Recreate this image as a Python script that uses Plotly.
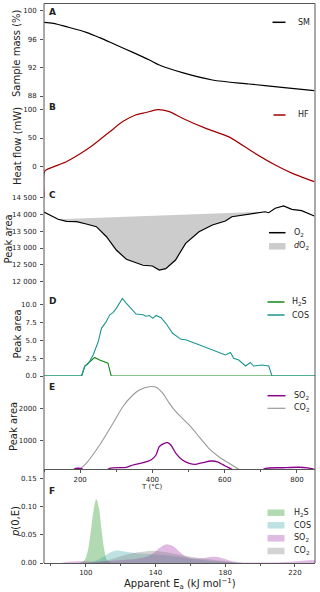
import numpy as np
import plotly.graph_objects as go

# ---------------- data ----------------
# Panel A: sample mass (%)
sm_T = [100, 126, 162, 217, 254, 300, 346, 392, 419, 483, 566, 667, 758, 848]
sm_v = [98.36, 98.22, 97.75, 96.96, 96.21, 95.17, 94.14, 93.06, 92.36, 91.28, 90.25, 89.69, 89.22, 88.75]

# Panel B: heat flow (mW)
hf_T = [100, 102, 126, 162, 200, 236, 282, 318, 355, 382, 414, 447, 483, 548, 612, 676, 740, 786, 848]
hf_v = [-55, -8.5, -1, 8, 22, 37.6, 61, 79, 91, 95, 100, 96.5, 85, 67, 52, 26, 2.3, -12, -27]

# Panel C: O2 peak area
o2_T = [100, 110, 125, 139, 162, 190, 217, 245, 273, 300, 328, 355, 374, 400, 419, 437, 464, 492,
        529, 566, 602, 620, 657, 685, 712, 722, 740, 763, 786, 813, 848]
o2_v = [14068, 14009, 13930, 13852, 13793, 13781, 13713, 13633, 13336, 12942, 12666, 12565, 12490,
        12468, 12349, 12388, 12645, 13140, 13484, 13683, 13801, 13929, 13979, 14030, 14075, 14047,
        14178, 14246, 14148, 14107, 13950]
# dO2 baseline end points
base_T = [139, 712]
base_v = [13852, 14075]

# Panel D: H2S and COS peak areas
h2s_T = [100, 204, 213, 227, 240, 254, 277, 286, 850]
h2s_v = [0, 0, 1.4, 2.0, 2.6, 2.25, 1.8, 0, 0]
cos_T = [100, 204, 213, 222, 236, 250, 259, 272, 282, 291, 300, 317, 328, 341, 355, 374, 382, 392,
         401, 410, 424, 437, 456, 479, 492, 529, 566, 589, 602, 616, 625, 639, 658, 671, 680, 703,
         722, 731, 850]
cos_v = [0, 0, 1.4, 1.7, 2.95, 4.8, 6.7, 7.6, 8.6, 8.9, 9.5, 10.9, 10.2, 9.4, 8.7, 8.6, 8.4, 8.5,
         8.1, 8.5, 8.2, 7.4, 6.0, 5.15, 5.1, 4.4, 3.7, 3.2, 2.95, 3.3, 2.5, 2.25, 1.4, 1.9, 1.4, 1.55,
         1.4, 0, 0]

# Panel E: SO2 and CO2 peak areas
so2_T = [100, 175, 185, 195, 205, 215, 260, 282, 328, 346, 374, 396, 410, 419, 433, 442, 451, 465,
         483, 502, 520, 543, 561, 580, 602, 620, 640, 690, 713, 760, 804, 830, 848]
so2_v = [0, 0, 135, 150, 130, 0, 0, 148, 180, 250, 321, 404, 559, 815, 920, 938, 867, 611,
         404, 302, 272, 333, 373, 350, 219, 117, 0, 0, 148, 165, 180, 160, 117]
co2_T = [100, 190, 199, 217, 254, 291, 318, 346, 364, 392, 410, 429, 447, 465, 483, 506, 529, 556,
         584, 612, 639, 660, 850]
co2_v = [0, 0, 117, 302, 867, 1537, 2049, 2410, 2565, 2667, 2648, 2463, 2154, 1895, 1691, 1432,
         1123, 765, 506, 302, 117, 0, 0]

# Panel F: activation energy distributions p(0,E)
f_h2s_E = [96, 99, 101, 103, 104.5, 106, 107.5, 109, 110.5, 112, 114, 116]
f_h2s_p = [0, 0.004, 0.02, 0.06, 0.095, 0.113, 0.098, 0.06, 0.025, 0.006, 0.001, 0]
f_cos_E = [100, 104, 108, 112, 115, 118, 121, 125, 130, 135, 140, 145, 150, 155, 160, 165, 170,
           175, 180, 185, 190]
f_cos_p = [0, 0.002, 0.007, 0.015, 0.020, 0.022, 0.021, 0.019, 0.017, 0.016, 0.015, 0.014, 0.012,
           0.010, 0.008, 0.006, 0.004, 0.003, 0.002, 0.001, 0]
f_so2_E = [76, 85, 90, 95, 100, 105, 110, 115, 120, 125, 130, 135, 139, 142, 145, 147, 150, 153,
           156, 160, 164, 168, 172, 175, 178, 182, 186, 190, 200, 210, 218, 224, 228, 232]
f_so2_p = [0, 0, 0.002, 0.003, 0.003, 0.002, 0.003, 0.004, 0.005, 0.006, 0.008, 0.011, 0.018,
           0.026, 0.032, 0.033, 0.030, 0.022, 0.014, 0.009, 0.008, 0.009, 0.011, 0.011, 0.009,
           0.005, 0.002, 0.001, 0.001, 0.001, 0.002, 0.004, 0.005, 0.005]
f_co2_E = [105, 110, 115, 120, 125, 130, 135, 138, 142, 146, 150, 155, 160, 165, 170, 175, 180,
           185, 190]
f_co2_p = [0, 0.003, 0.007, 0.012, 0.016, 0.019, 0.021, 0.0215, 0.021, 0.019, 0.017, 0.014, 0.011,
           0.009, 0.007, 0.005, 0.003, 0.001, 0]

# ---------------- geometry helpers ----------------
W, H = 320, 592
ML, MR, MT, MB = 44, 5, 3, 29
PW, PH = W - ML - MR, H - MT - MB


def fy(py):
    return (H - MB - py) / PH


def fx(px):
    return (px - ML) / PW


FONT = "DejaVu Sans"
SPINE = "#555555"
TXT = "#222222"

fig = go.Figure()

# Panel A
fig.add_trace(go.Scatter(x=sm_T, y=sm_v, mode="lines", line=dict(color="black", width=1.2, shape="spline", smoothing=0.8),
                         xaxis="x", yaxis="y", showlegend=False))
# Panel B
fig.add_trace(go.Scatter(x=hf_T, y=hf_v, mode="lines", line=dict(color="#a00000", width=1.2, shape="spline", smoothing=0.6),
                         xaxis="x", yaxis="y2", showlegend=False))
# Panel C: dO2 fill polygon (O2 curve between baseline ends, closed by baseline)
i0 = o2_T.index(base_T[0])
i1 = o2_T.index(base_T[1])
poly_x = o2_T[i0:i1 + 1] + base_T[::-1]
poly_y = o2_v[i0:i1 + 1] + base_v[::-1]
fig.add_trace(go.Scatter(x=poly_x, y=poly_y, mode="lines", fill="toself",
                         fillcolor="#cccccc", line=dict(width=0, color="#cccccc"),
                         xaxis="x", yaxis="y3", showlegend=False))
fig.add_trace(go.Scatter(x=o2_T, y=o2_v, mode="lines", line=dict(color="black", width=1.2),
                         xaxis="x", yaxis="y3", showlegend=False))
# Panel D
fig.add_trace(go.Scatter(x=h2s_T, y=h2s_v, mode="lines", line=dict(color="#138a13", width=1.1),
                         xaxis="x", yaxis="y4", showlegend=False))
fig.add_trace(go.Scatter(x=cos_T, y=cos_v, mode="lines", line=dict(color="#1b9690", width=1.1),
                         xaxis="x", yaxis="y4", showlegend=False))
# Panel E
fig.add_trace(go.Scatter(x=co2_T, y=co2_v, mode="lines", line=dict(color="#999999", width=1.1, shape="spline", smoothing=0.6),
                         xaxis="x", yaxis="y5", showlegend=False))
fig.add_trace(go.Scatter(x=so2_T, y=so2_v, mode="lines", line=dict(color="#8b008b", width=1.3, shape="spline", smoothing=0.6),
                         xaxis="x", yaxis="y5", showlegend=False))
# Panel F
F_COLS = {
    "h2s": "rgba(34,150,34,0.35)",
    "cos": "rgba(40,160,160,0.30)",
    "so2": "rgba(150,30,160,0.30)",
    "co2": "rgba(128,128,128,0.35)",
}
for E, p, key in [(f_h2s_E, f_h2s_p, "h2s"), (f_cos_E, f_cos_p, "cos"),
                  (f_so2_E, f_so2_p, "so2"), (f_co2_E, f_co2_p, "co2")]:
    fig.add_trace(go.Scatter(x=E, y=p, mode="lines", fill="tozeroy", fillcolor=F_COLS[key],
                             line=dict(width=0, color=F_COLS[key]), line_shape="spline",
                             xaxis="x2", yaxis="y6", showlegend=False))

# ---------------- axes ----------------
tickfont = dict(family=FONT, size=7, color=TXT)


def yax(domain_px, rng, tickvals, ticktext=None):
    d = dict(domain=[fy(domain_px[1]), fy(domain_px[0])], range=rng, anchor="x",
             tickvals=tickvals, ticks="outside", ticklen=3, tickwidth=1, tickcolor=SPINE,
             showline=False, showgrid=False, zeroline=False, tickfont=tickfont, ticklabelstandoff=2)
    if ticktext is not None:
        d["ticktext"] = ticktext
    return d


# A
yA = yax((3.5, 99), [88 - 3 / 7.108, 100 + 7.2 / 7.108], [88, 92, 96, 100])
# B
yB = yax((99, 198), [-(198 - 166.3) / 0.566, (166.3 - 99) / 0.566], [0, 50, 100])
# C
cvals = [12000, 12500, 13000, 13500, 14000, 14500]
yC = yax((186, 290), [14000 - (290 - 214.3) / 0.03374, 14000 + (214.3 - 186) / 0.03374], cvals,
         ticktext=["12 000", "12 500", "13 000", "13 500", "14 000", "14 500"])
# D
yD = yax((293, 376), [0, (376 - 293) / 7.12], [0, 2.5, 5, 7.5, 10],
         ticktext=["0.0", "2.5", "5.0", "7.5", "10.0"])
# E
yE = yax((378.5, 469.3), [(473.1 - 469.3) / 0.0324, (473.1 - 378.5) / 0.0324], [1000, 2000])
# F
yF = yax((469.3, 563), [0, (563 - 469.3) / 564], [0, 0.05, 0.10, 0.15],
         ticktext=["0.00", "0.05", "0.10", "0.15"])
yF["anchor"] = "x2"

fig.update_layout(
    width=W, height=H,
    margin=dict(l=ML, r=MR, t=MT, b=MB, pad=0),
    paper_bgcolor="white", plot_bgcolor="rgba(0,0,0,0)",
    font=dict(family=FONT, size=8, color=TXT),
    showlegend=False,
    xaxis=dict(domain=[0, 1], range=[100, 850], anchor="y5", tick0=0, dtick=200,
               ticks="outside", ticklen=3, tickwidth=1, tickcolor=SPINE, showline=True,
               linecolor=SPINE, linewidth=1, showgrid=False, zeroline=False, tickfont=tickfont,
               minor=dict(tick0=0, dtick=100, ticks="outside", ticklen=2, tickcolor=SPINE,
                          showgrid=False)),
    xaxis2=dict(domain=[0, 1], range=[76, 231.5], anchor="y6", tick0=100, dtick=40,
                ticks="outside", ticklen=3, tickwidth=1, tickcolor=SPINE, showline=True,
                linecolor=SPINE, linewidth=1, showgrid=False, zeroline=False, tickfont=tickfont,
                minor=dict(tick0=100, dtick=20, ticks="outside", ticklen=2, tickcolor=SPINE,
                           showgrid=False)),
    yaxis=yA, yaxis2=yB, yaxis3=yC, yaxis4=yD, yaxis5=yE, yaxis6=yF,
)

shapes = []
# frame for panels A-E (top, left, right) and F (left, right)
shapes.append(dict(type="line", xref="paper", yref="paper", x0=0, x1=1, y0=fy(3.5), y1=fy(3.5),
                   line=dict(color=SPINE, width=1)))
for xx in (0, 1):
    shapes.append(dict(type="line", xref="paper", yref="paper", x0=xx, x1=xx, y0=0, y1=fy(3.5),
                       line=dict(color=SPINE, width=1)))

annotations = []


def text(px, py, s, size=8, anchor="left", angle=0, color=TXT):
    annotations.append(dict(xref="paper", yref="paper", x=fx(px), y=fy(py), text=s,
                            showarrow=False, xanchor=anchor, yanchor="middle", textangle=angle,
                            font=dict(family=FONT, size=size, color=color)))


# panel letters
for lab, py in [("A", 11.7), ("B", 107), ("C", 194.5), ("D", 301), ("E", 386.5), ("F", 491)]:
    text(47, py, "<b>%s</b>" % lab, size=9)

# y-axis titles
for s, px, py in [("Sample mass (%)", 16, 53), ("Heat flow (mW)", 17, 146),
                  ("Peak area", 8.5, 239), ("Peak area", 16.5, 334), ("Peak area", 13, 427),
                  ("<i>p</i>(0,E)", 15, 522)]:
    text(px, py, s, size=10, anchor="center", angle=-90)

# x-axis titles
text(152, 487, "T (°C)", size=7, anchor="center")
text(180, 583.5, "Apparent E<sub>a</sub> (kJ mol<sup>−1</sup>)", size=10, anchor="center")


# legends
def leg_line(py, color, label, x0=272.5, x1=285.5, tx=295, width=1.5):
    shapes.append(dict(type="line", xref="paper", yref="paper", x0=fx(x0), x1=fx(x1),
                       y0=fy(py), y1=fy(py), line=dict(color=color, width=width)))
    text(tx, py, label, size=8)


def leg_patch(py, color, label, x0=268, x1=285, tx=291.5, h=6.5):
    shapes.append(dict(type="rect", xref="paper", yref="paper", x0=fx(x0), x1=fx(x1),
                       y0=fy(py + h / 2), y1=fy(py - h / 2), fillcolor=color,
                       line=dict(width=0)))
    text(tx, py, label, size=8)


leg_line(22.3, "black", "SM", x0=272.5, x1=285.5, tx=295.5)
leg_line(115, "#a00000", "HF", x0=273.5, x1=285.5, tx=295.5)
leg_line(232.7, "black", "O<sub>2</sub>", x0=269, x1=285.5, tx=292)
leg_patch(246.3, "#cccccc", "<i>d</i>O<sub>2</sub>", x0=269, x1=285.5, tx=292)
leg_line(302, "#138a13", "H<sub>2</sub>S", x0=267.5, x1=284.5, tx=290)
leg_line(315, "#1b9690", "COS", x0=267.5, x1=284.5, tx=290)
leg_line(395.7, "#8b008b", "SO<sub>2</sub>", x0=267.5, x1=285.5, tx=291.5)
leg_line(408.3, "#999999", "CO<sub>2</sub>", x0=267.5, x1=285.5, tx=291.5, width=1.2)
leg_patch(512.7, F_COLS["h2s"], "H<sub>2</sub>S", x0=267.5, x1=284.5)
leg_patch(525.3, F_COLS["cos"], "COS", x0=267.5, x1=284.5)
leg_patch(538.3, F_COLS["so2"], "SO<sub>2</sub>", x0=267.5, x1=284.5)
leg_patch(551, F_COLS["co2"], "CO<sub>2</sub>", x0=267.5, x1=284.5)

fig.update_layout(shapes=shapes, annotations=annotations)
fig.write_html("out.html")
